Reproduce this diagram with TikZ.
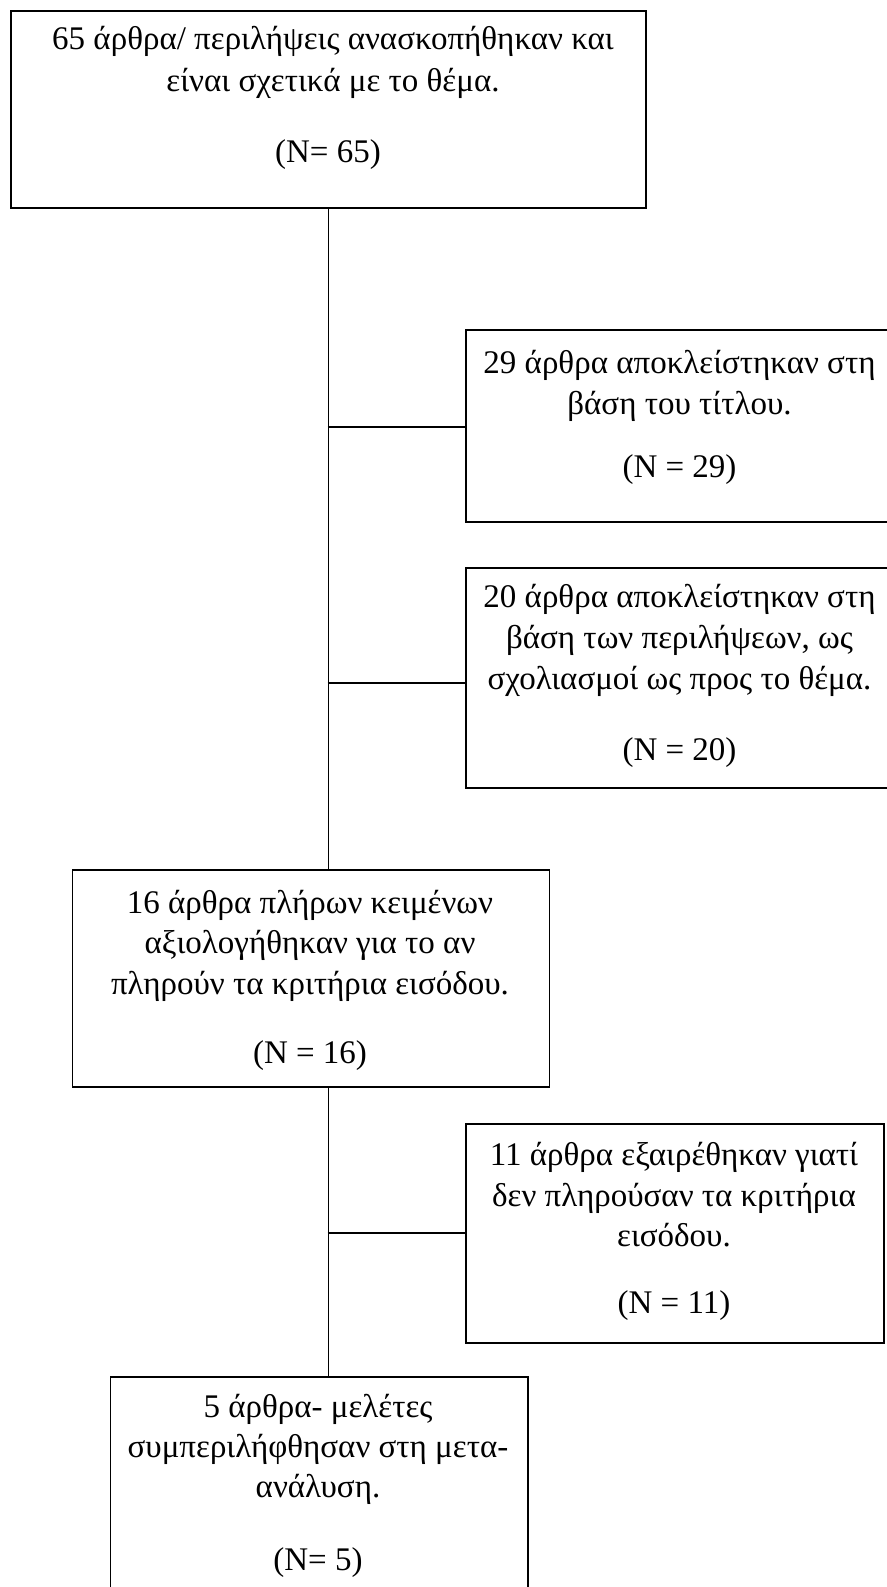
\documentclass[tikz,border=0pt]{standalone}
\usepackage{fontspec}
\setmainfont{Liberation Serif}
\begin{document}
\begin{tikzpicture}[x=1pt,y=-1pt,
  box/.style={draw,line width=1.8pt,rectangle,inner sep=0pt,anchor=north west},
  txt/.style={anchor=base,inner sep=0pt,font=\fontsize{33}{40}\selectfont},
  conn/.style={line width=1.8pt}]
\useasboundingbox (0,0) rectangle (886,1587);
% boxes
\node[box,minimum width=635pt,minimum height=197pt] (A) at (10,10) {};
\node[box,minimum width=428pt,minimum height=192pt] (B) at (465,329) {};
\node[box,minimum width=428pt,minimum height=220pt] (C) at (465,567) {};
\node[box,minimum width=477pt,minimum height=217pt] (D) at (71.5,869) {};
\node[box,minimum width=418pt,minimum height=219pt] (E) at (465,1123) {};
\node[box,minimum width=417.5pt,minimum height=240pt] (F) at (109.5,1376) {};
% texts
\node[txt] (a1) at (333,49) {65 άρθρα/ περιλήψεις ανασκοπήθηκαν και};
\node[txt] (a2) at (333,91) {είναι σχετικά με το θέμα.};
\node[txt] (a3) at (328,162) {(N= 65)};
\node[txt] (b1) at (679.5,373) {29 άρθρα αποκλείστηκαν στη};
\node[txt] (b2) at (679.5,414) {βάση του τίτλου.};
\node[txt] (b3) at (679.5,477) {(N = 29)};
\node[txt] (c1) at (679.5,607) {20 άρθρα αποκλείστηκαν στη};
\node[txt] (c2) at (679.5,648) {βάση των περιλήψεων, ως};
\node[txt] (c3) at (679.5,689) {σχολιασμοί ως προς το θέμα.};
\node[txt] (c4) at (679.5,760) {(N = 20)};
\node[txt] (d1) at (310,913) {16 άρθρα πλήρων κειμένων};
\node[txt] (d2) at (310,953) {αξιολογήθηκαν για το αν};
\node[txt] (d3) at (310,994) {πληρούν τα κριτήρια εισόδου.};
\node[txt] (d4) at (310,1063) {(N = 16)};
\node[txt] (e1) at (674,1165) {11 άρθρα εξαιρέθηκαν γιατί};
\node[txt] (e2) at (674,1206) {δεν πληρούσαν τα κριτήρια};
\node[txt] (e3) at (674,1246) {εισόδου.};
\node[txt] (e4) at (674,1313) {(N = 11)};
\node[txt] (f1) at (318,1417) {5 άρθρα- μελέτες};
\node[txt] (f2) at (318,1457) {συμπεριλήφθησαν στη μετα-};
\node[txt] (f3) at (318,1497) {ανάλυση.};
\node[txt] (f4) at (318,1570) {(N= 5)};
% connectors
\coordinate (jB) at (327.5,427);
\coordinate (jC) at (327.5,683);
\coordinate (jE) at (327.5,1233);
\draw[conn] (A.south) -- (A.south |- D.north);
\draw[conn] (A.south |- D.south) -- (A.south |- F.north);
\draw[conn] (jB) -- (jB -| B.west);
\draw[conn] (jC) -- (jC -| C.west);
\draw[conn] (jE) -- (jE -| E.west);
\end{tikzpicture}
\end{document}
